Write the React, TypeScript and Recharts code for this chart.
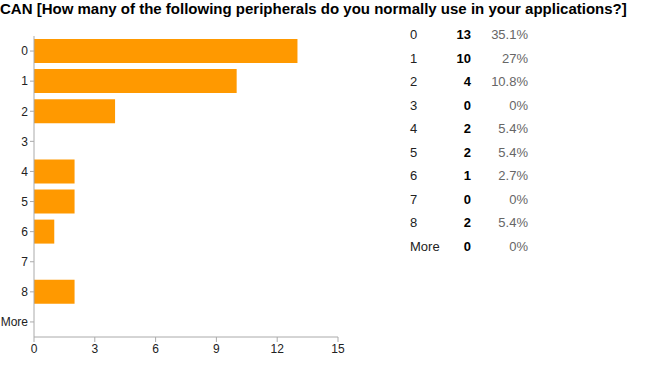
import React from 'react';
import { BarChart, Bar, XAxis, YAxis } from 'recharts';

const categories = ['0', '1', '2', '3', '4', '5', '6', '7', '8', 'More'];
const counts = [13, 10, 4, 0, 2, 2, 1, 0, 2, 0];
const percents = ['35.1%', '27%', '10.8%', '0%', '5.4%', '5.4%', '2.7%', '0%', '5.4%', '0%'];
const xTicks = [0, 3, 6, 9, 12, 15];

const title = 'CAN [How many of the following peripherals do you normally use in your applications?]';

const chartData = categories.map((name, i) => ({ name, value: counts[i] }));

const axisColor = '#aaaaaa';
const font = '"Liberation Sans", Arial, sans-serif';

const App: React.FC = () => {
  return (
    <div style={{ position: 'absolute', left: 0, top: 0, width: 650, height: 370, background: '#fff', fontFamily: font }}>
      <div style={{ position: 'absolute', left: 0, top: 0, fontSize: 15, fontWeight: 'bold', lineHeight: '17px', color: '#000', whiteSpace: 'nowrap' }}>
        {title}
      </div>

      <div style={{ position: 'absolute', left: 0, top: 0 }}>
        <BarChart
          width={345}
          height={370}
          data={chartData}
          layout="vertical"
          margin={{ top: 36, right: 7, bottom: 3, left: 0 }}
          barCategoryGap={3}
        >
          <XAxis
            type="number"
            domain={[0, 15]}
            ticks={xTicks}
            height={30}
            stroke={axisColor}
            tickLine={{ stroke: axisColor }}
            tickSize={5}
            tick={{ fill: '#222', fontSize: 12, fontFamily: font }}
          />
          <YAxis
            type="category"
            dataKey="name"
            width={34}
            stroke={axisColor}
            tickLine={{ stroke: axisColor }}
            tickSize={4}
            tick={{ fill: '#222', fontSize: 12, fontFamily: font }}
          />
          <Bar dataKey="value" fill="#ff9900" barSize={24} isAnimationActive={false} />
        </BarChart>
      </div>

      {categories.map((c, i) => (
        <div
          key={c}
          style={{ position: 'absolute', left: 410, top: 27 + i * 23.55, width: 120, height: 16, fontSize: 13, lineHeight: '16px' }}
        >
          <span style={{ position: 'absolute', left: 0, color: '#222' }}>{c}</span>
          <span style={{ position: 'absolute', right: 59, color: '#000', fontWeight: 'bold' }}>{counts[i]}</span>
          <span style={{ position: 'absolute', right: 2, color: '#666' }}>{percents[i]}</span>
        </div>
      ))}
    </div>
  );
};

export default App;
